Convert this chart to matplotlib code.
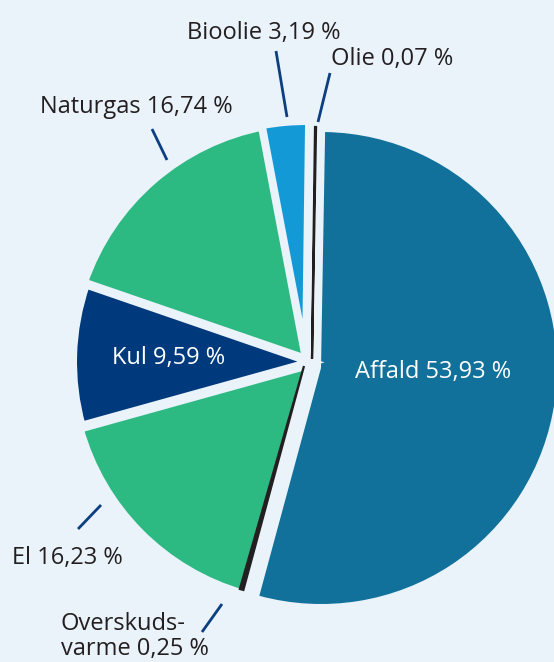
import matplotlib.pyplot as plt

labels = ["Affald", "Overskuds-\nvarme", "El", "Kul", "Naturgas", "Bioolie", "Olie"]
shares = [53.93, 0.25, 16.23, 9.59, 16.74, 3.19, 0.07]
colors = ["#11719b", "#231f20", "#2cb982", "#003a7c", "#2cb982", "#139ad6", "#231f20"]

bg = "#eaf2fa"
line_col = "#0b3f80"
txt = "#231f20"
plt.rcParams['font.family'] = ['Open Sans', 'DejaVu Sans']

fig = plt.figure(figsize=(5.54, 6.62), dpi=100, facecolor=bg)
ax = fig.add_axes([0, 0, 1, 1])
ax.set_facecolor(bg)

# y axis runs downward (pixel-like), so angles are mirrored
cx, cy = 312, 362
wedges, _ = ax.pie(shares, colors=colors, startangle=-89, counterclock=True,
                   radius=238, center=(cx, cy), frame=True,
                   wedgeprops=dict(edgecolor=bg, linewidth=5.8))

# small per-wedge shifts that open the gaps
shift = [(9, 6), (-8, 4), (-3, 3), (-1, 0), (-3, -2), (-6, -3), (0, -3)]
for w, v, (dx, dy) in zip(wedges, shares, shift):
    w.set_center((cx + dx, cy + dy))
    if v < 1:
        w.set_edgecolor(w.get_facecolor())
        w.set_linewidth(1.6)
        w.set_radius(232)
        w.set_zorder(5)
wedges[0].set_linewidth(0)
wedges[0].set_radius(236)

ax.set_xlim(0, 554)
ax.set_ylim(662, 0)
ax.set_aspect('equal')
ax.axis('off')

def fmt(v):
    return f"{v:.2f}".replace(".", ",") + " %"

fs = 17
kw = dict(ha='center', va='baseline', fontsize=fs)
ax.text(264, 39, f"{labels[5]} {fmt(shares[5])}", color=txt, **kw)
ax.text(392, 65, f"{labels[6]} {fmt(shares[6])}", color=txt, **kw)
ax.text(136, 113, f"{labels[4]} {fmt(shares[4])}", color=txt, **kw)
ax.text(169, 364, f"{labels[3]} {fmt(shares[3])}", color='white', **kw)
ax.text(433, 378, f"{labels[0]} {fmt(shares[0])}", color='white', **kw)
ax.text(67, 564, f"{labels[2]} {fmt(shares[2])}", color=txt, **kw)
first, second = labels[1].split("\n")
ax.text(61, 630, first, ha='left', va='baseline', fontsize=fs, color=txt)
ax.text(61, 655, f"{second} {fmt(shares[1])}", ha='left', va='baseline', fontsize=fs, color=txt)

# leader lines
for (x0, y0), (x1, y1) in [((276, 51), (287, 117)), ((330, 73), (318, 122)),
                           ((152, 129), (167, 160)), ((101, 505), (78, 529)),
                           ((222, 604), (202, 632))]:
    ax.plot([x0, x1], [y0, y1], color=line_col, lw=2, solid_capstyle='butt')

fig.savefig("out.png", dpi=100, facecolor=bg)
